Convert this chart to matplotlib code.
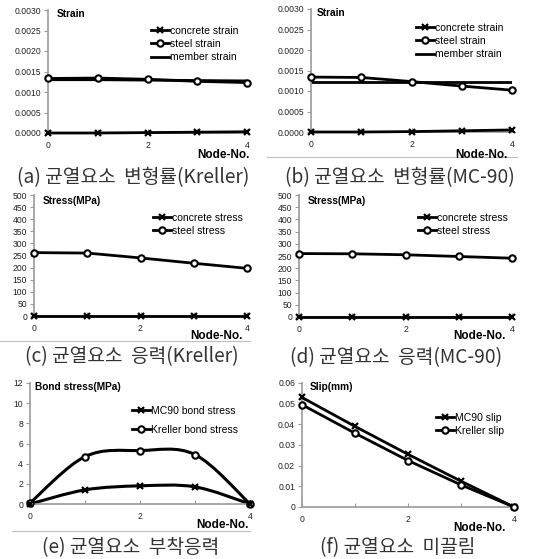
import matplotlib
matplotlib.use("Agg")
import matplotlib.pyplot as plt
from matplotlib.lines import Line2D
from matplotlib.path import Path
from matplotlib.patches import PathPatch
import numpy as np

# ---- data ----
nodes = [0, 1, 2, 3, 4]

kr_concrete_strain = [0.0, 0.0, 0.00001, 0.00002, 0.00003]
kr_steel_strain = [0.00133, 0.00134, 0.00131, 0.00126, 0.00123]
kr_member_strain = [0.00130, 0.00130, 0.00129, 0.00128, 0.00127]

mc_concrete_strain = [0.0, 0.0, 0.00001, 0.00003, 0.00005]
mc_steel_strain = [0.00134, 0.00133, 0.00123, 0.00112, 0.00102]
mc_member_strain = [0.00122, 0.00122, 0.00122, 0.00122, 0.00122]

kr_concrete_stress = [0, 0, 0, 0, 0]
kr_steel_stress = [262, 260, 240, 218, 197]

mc_concrete_stress = [0, 0, 0, 0, 0]
mc_steel_stress = [260, 259, 255, 248, 241]

mc90_bond = [0.0, 1.4, 1.8, 1.7, 0.0]
kreller_bond = [0.1, 4.7, 5.3, 4.9, 0.0]

mc90_slip = [0.053, 0.039, 0.0255, 0.0125, 0.0]
kreller_slip = [0.0495, 0.0357, 0.0225, 0.0107, 0.0]

captions = ["(a) 균열요소  변형률(Kreller)", "(b) 균열요소  변형률(MC-90)",
            "(c) 균열요소  응력(Kreller)", "(d) 균열요소  응력(MC-90)",
            "(e) 균열요소  부착응력", "(f) 균열요소  미끌림"]

W, H = 534, 559
fig = plt.figure(figsize=(W / 100, H / 100), dpi=100)
fig.patch.set_facecolor("white")

LAT = "Liberation Sans"
KR = ["Noto Sans CJK KR", "DejaVu Sans"]
GRAY = "#9a9a9a"
MS_O, MS_X = 4.6, 4.6


def fx(px):
    return px / W


def fy(py):
    return 1 - py / H


def make_ax(left, right, top, bottom):
    ax = fig.add_axes([fx(left), fy(bottom), fx(right - left), (bottom - top) / H])
    for s in ["top", "right"]:
        ax.spines[s].set_visible(False)
    for s in ["left", "bottom"]:
        ax.spines[s].set_color(GRAY)
        ax.spines[s].set_linewidth(1.2)
    ax.set_xlim(0, 4)
    ax.set_xticks(nodes)
    ax.set_xticklabels(["0", "", "2", "", "4"], fontsize=6.2, family=LAT, color="#222")
    ax.tick_params(axis="x", direction="in", length=3, color=GRAY, pad=6)
    ax.tick_params(axis="y", direction="out", length=3, color=GRAY, labelsize=6.2,
                   labelcolor="#222", pad=2)
    return ax


def smooth(ax, xs, ys, lw):
    # excel-like smoothed line (bezier through the data points)
    pts = np.column_stack([xs, ys]).astype(float)
    n = len(pts)
    verts = [pts[0]]
    codes = [Path.MOVETO]
    for i in range(n - 1):
        p0 = pts[max(i - 1, 0)]
        p1 = pts[i]
        p2 = pts[i + 1]
        p3 = pts[min(i + 2, n - 1)]
        verts += [p1 + (p2 - p0) / 6, p2 - (p3 - p1) / 6, p2]
        codes += [Path.CURVE4] * 3
    ax.add_patch(PathPatch(Path(verts, codes), fill=False, lw=lw, ec="black",
                           capstyle="round", joinstyle="round"))


def xline(ax, ys, lw=2.0):
    ax.plot(nodes, ys, color="black", lw=lw, marker="x", ms=MS_X, mew=1.6, clip_on=False, zorder=3)


def oline(ax, ys, lw=2.0):
    ax.plot(nodes, ys, color="black", lw=lw, marker="o", ms=MS_O, mew=1.5, mfc="white",
            clip_on=False, zorder=3)


def legend_at(ax, handles, labels, x_px, y_px, spacing=0.3, fs=7.5):
    ax.legend(handles, labels, loc="upper left",
              bbox_to_anchor=(fx(x_px), fy(y_px)), bbox_transform=fig.transFigure,
              frameon=False, borderaxespad=0, borderpad=0, handlelength=1.7,
              handletextpad=0.1, labelspacing=spacing,
              prop={"family": LAT, "size": fs})


def h_x():
    return Line2D([], [], color="black", lw=2, marker="x", ms=MS_X, mew=1.6)


def h_o():
    return Line2D([], [], color="black", lw=2, marker="o", ms=MS_O, mew=1.5, mfc="white")


def h_line():
    return Line2D([], [], color="black", lw=2)


def label(x, y, s):
    fig.text(fx(x), fy(y), s, fontsize=7.3, fontweight="bold", family=LAT,
             ha="left", va="center")


def node_label(x, y):
    fig.text(fx(x), fy(y), "Node-No.", fontsize=8.5, fontweight="bold", family=LAT,
             ha="right", va="center")


def caption(x, y, s):
    fig.text(fx(x), fy(y), s, fontsize=13.8, family=KR, weight="light", color="#333",
             ha="center", va="center")


strain_ticks = [0, 0.0005, 0.001, 0.0015, 0.002, 0.0025, 0.003]
strain_labels = ["%.4f" % t for t in strain_ticks]
stress_ticks = list(range(0, 501, 50))
bond_ticks = [0, 2, 4, 6, 8, 10, 12]
slip_ticks = [0, 0.01, 0.02, 0.03, 0.04, 0.05, 0.06]
slip_labels = ["0", "0.01", "0.02", "0.03", "0.04", "0.05", "0.06"]

# (a)
ax = make_ax(48, 247, 10, 133)
ax.set_ylim(0, 0.003)
ax.set_yticks(strain_ticks)
ax.set_yticklabels(strain_labels, family=LAT)
ax.plot(nodes, kr_member_strain, color="black", lw=2, zorder=2)
oline(ax, kr_steel_strain)
xline(ax, kr_concrete_strain)
legend_at(ax, [h_x(), h_o(), h_line()], ["concrete strain", "steel strain", "member strain"],
          151, 26, spacing=0.3)
label(57, 14, "Strain")
node_label(250, 155)
caption(133, 178, captions[0])

# (b)
ax = make_ax(311, 512, 9, 132)
ax.set_ylim(0, 0.003)
ax.set_yticks(strain_ticks)
ax.set_yticklabels(strain_labels, family=LAT)
ax.plot(nodes, mc_member_strain, color="black", lw=2, zorder=2)
oline(ax, mc_steel_strain)
xline(ax, mc_concrete_strain)
legend_at(ax, [h_x(), h_o(), h_line()], ["concrete strain", "steel strain", "member strain"],
          416, 23, spacing=0.3)
label(317, 13, "Strain")
node_label(508, 155)
caption(400, 178, captions[1])

# (c)
ax = make_ax(34, 247, 195, 316)
ax.set_ylim(0, 500)
ax.set_yticks(stress_ticks)
ax.set_yticklabels([str(t) for t in stress_ticks], family=LAT)
oline(ax, kr_steel_stress)
xline(ax, kr_concrete_stress)
legend_at(ax, [h_x(), h_o()], ["concrete stress", "steel stress"], 153, 213, spacing=0.3)
label(43, 201, "Stress(MPa)")
node_label(243, 336)
caption(132, 357, captions[2])

# (d)
ax = make_ax(299, 512, 195, 317)
ax.set_ylim(0, 500)
ax.set_yticks(stress_ticks)
ax.set_yticklabels([str(t) for t in stress_ticks], family=LAT)
oline(ax, mc_steel_stress)
xline(ax, mc_concrete_stress)
legend_at(ax, [h_x(), h_o()], ["concrete stress", "steel stress"], 418, 213, spacing=0.3)
label(308, 201, "Stress(MPa)")
node_label(506, 336)
caption(396, 358, captions[3])

# (e)
ax = make_ax(30, 250, 383, 504)
ax.set_ylim(0, 12)
ax.set_yticks(bond_ticks)
ax.set_yticklabels([str(t) for t in bond_ticks], family=LAT)
smooth(ax, nodes, kreller_bond, 2.2)
smooth(ax, nodes, mc90_bond, 2.2)
ax.plot(nodes, kreller_bond, ls="none", marker="o", ms=MS_O, mew=1.5, mfc="white",
        color="black", clip_on=False, zorder=3)
ax.plot(nodes, mc90_bond, ls="none", marker="x", ms=MS_X, mew=1.6, color="black",
        clip_on=False, zorder=3)
legend_at(ax, [h_x(), h_o()], ["MC90 bond stress", "Kreller bond stress"], 132, 406,
          spacing=0.85)
label(35, 387, "Bond stress(MPa)")
node_label(249, 525)
caption(131, 548, captions[4])

# (f)
ax = make_ax(302, 514, 383, 507)
ax.set_ylim(0, 0.06)
ax.set_yticks(slip_ticks)
ax.set_yticklabels(slip_labels, family=LAT)
xline(ax, mc90_slip)
oline(ax, kreller_slip)
legend_at(ax, [h_x(), h_o()], ["MC90 slip", "Kreller slip"], 436, 413, spacing=0.3)
label(310, 387, "Slip(mm)")
node_label(506, 528)
caption(398, 548, captions[5])

# thin gray separator lines left from the page scan
for x0, x1, y in [(267, 517, 157), (0, 250, 341), (12, 250, 531)]:
    fig.add_artist(Line2D([fx(x0), fx(x1)], [fy(y), fy(y)], color="#c0c0c0", lw=0.8,
                          transform=fig.transFigure))

fig.savefig("out.png", dpi=100, facecolor="white")
